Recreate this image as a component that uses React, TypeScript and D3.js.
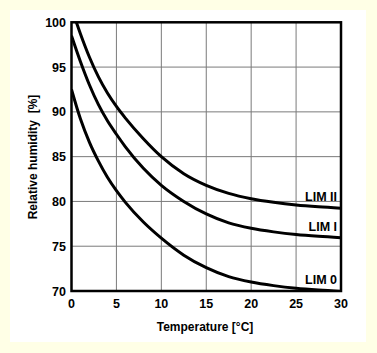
import React from "react";
import * as d3 from "d3";

const W = 377;
const H = 353;

const xTicks = [0, 5, 10, 15, 20, 25, 30];
const yTicks = [70, 75, 80, 85, 90, 95, 100];

const limIIx = [0, 1, 2, 3, 4, 5, 6, 8, 10, 12.5, 15, 17.5, 20, 22.5, 25, 27.5, 30];
const limIIy = [101.6, 98.7, 96.1, 93.9, 92.1, 90.6, 89.3, 87.0, 85.0, 83.1, 81.8, 80.9, 80.3, 79.9, 79.6, 79.4, 79.25];

const limIx = [0, 1, 2, 3, 4, 5, 6, 8, 10, 12.5, 15, 17.5, 20, 22.5, 25, 27.5, 30];
const limIy = [98.5, 95.6, 93.0, 90.8, 89.0, 87.5, 86.1, 83.7, 81.8, 80.0, 78.6, 77.6, 77.0, 76.6, 76.3, 76.1, 75.95];

const lim0x = [0, 1, 2, 3, 4, 5, 6, 8, 10, 12.5, 15, 17.5, 20, 22.5, 25, 27.5, 30];
const lim0y = [92.5, 89.2, 86.6, 84.5, 82.7, 81.2, 79.9, 77.7, 75.9, 74.0, 72.6, 71.6, 71.0, 70.6, 70.3, 70.1, 69.95];

const seriesNames = ["LIM II", "LIM I", "LIM 0"];
const labelY = [79.6, 76.3, 70.3];

export default function App() {
  const left = 71.5, right = 341, top = 22.3, bottom = 291;
  const x = d3.scaleLinear().domain([0, 30]).range([left, right]);
  const y = d3.scaleLinear().domain([70, 100]).range([bottom, top]);
  const line = d3
    .line<[number, number]>()
    .x((d) => x(d[0]))
    .y((d) => y(d[1]))
    .curve(d3.curveMonotoneX);
  const series = [
    limIIx.map((v, i) => [v, limIIy[i]] as [number, number]),
    limIx.map((v, i) => [v, limIy[i]] as [number, number]),
    lim0x.map((v, i) => [v, lim0y[i]] as [number, number]),
  ];
  const font = "'Liberation Sans', Arial, sans-serif";
  return (
    <svg
      width={W}
      height={H}
      style={{ position: "absolute", left: 0, top: 0 }}
      fontFamily={font}
    >
      <rect x={0} y={0} width={W} height={H} fill="#FFFFE6" />
      <rect x={10} y={10} width={356} height={332} fill="#ffffff" />
      <defs>
        <clipPath id="plot">
          <rect x={left} y={top} width={right - left} height={bottom - top} />
        </clipPath>
      </defs>
      {xTicks.map((t) => (
        <line key={"gx" + t} x1={x(t)} x2={x(t)} y1={top} y2={bottom} stroke="#7a7a7a" strokeWidth={1} />
      ))}
      {yTicks.map((t) => (
        <line key={"gy" + t} x1={left} x2={right} y1={y(t)} y2={y(t)} stroke="#7a7a7a" strokeWidth={1} />
      ))}
      <g clipPath="url(#plot)">
        {series.map((s, i) => (
          <path key={i} d={line(s) || ""} fill="none" stroke="#000" strokeWidth={3} />
        ))}
      </g>
      <rect x={left} y={top} width={right - left} height={bottom - top} fill="none" stroke="#000" strokeWidth={2.5} />
      {seriesNames.map((n, i) => (
        <text
          key={n}
          x={337}
          y={y(labelY[i]) - 4}
          textAnchor="end"
          fontSize={12.5}
          fontWeight="bold"
          fill="#000"
        >
          {n}
        </text>
      ))}
      {yTicks.map((t) => (
        <text key={"ty" + t} x={66} y={y(t) + 4.5} textAnchor="end" fontSize={12.5} fontWeight="bold">
          {t}
        </text>
      ))}
      {xTicks.map((t) => (
        <text key={"tx" + t} x={x(t)} y={308} textAnchor="middle" fontSize={12.5} fontWeight="bold">
          {t}
        </text>
      ))}
      <text x={205} y={331} textAnchor="middle" fontSize={12} fontWeight="bold">
        Temperature [°C]
      </text>
      <text
        transform={`translate(37,157) rotate(-90)`}
        textAnchor="middle"
        fontSize={12}
        fontWeight="bold"
        style={{ whiteSpace: "pre" }}
      >
        {"Relative humidity  [%]"}
      </text>
    </svg>
  );
}
